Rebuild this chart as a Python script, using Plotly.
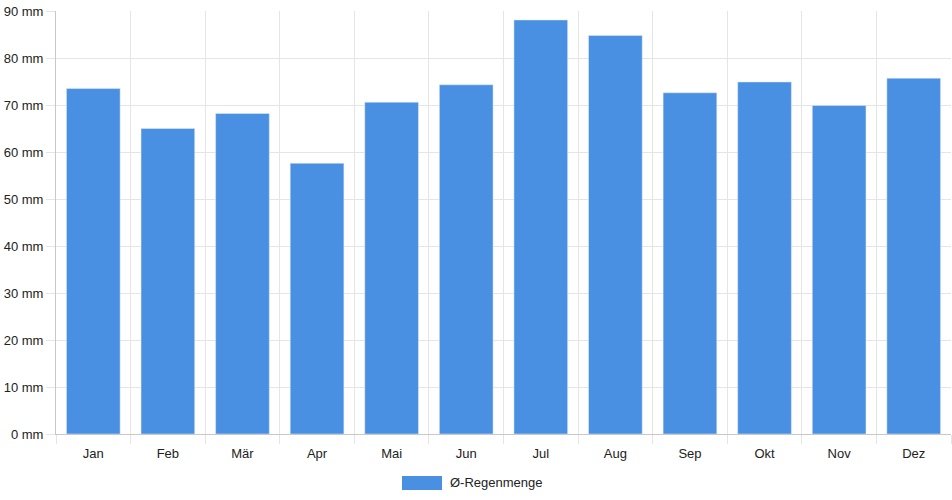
import plotly.graph_objects as go

# monthly average rainfall (mm)
months = ["Jan", "Feb", "Mär", "Apr", "Mai", "Jun",
          "Jul", "Aug", "Sep", "Okt", "Nov", "Dez"]
rain_mm = [73.5, 65.0, 68.2, 57.6, 70.6, 74.3,
           88.1, 84.8, 72.6, 74.9, 69.9, 75.7]
series_name = "Ø-Regenmenge"
y_ticks = list(range(0, 100, 10))
y_labels = [f"{v} mm" for v in y_ticks]

BAR_COLOR = "#4a90e2"
GRID = "#e5e5e5"
AXIS = "#c8c8c8"
FONT = dict(family="Liberation Sans, Arial, sans-serif", size=13, color="#222")

fig = go.Figure()
fig.add_trace(go.Bar(x=months, y=rain_mm, name=series_name,
                     marker_color=BAR_COLOR, showlegend=False))

fig.update_layout(
    width=952, height=500,
    margin=dict(l=56, r=1, t=11, b=66),
    plot_bgcolor="white", paper_bgcolor="white",
    font=FONT,
    bargap=0.28,
)
fig.update_xaxes(
    type="category", tickson="boundaries",
    showgrid=True, gridcolor=GRID,
    showline=True, linecolor=AXIS,
    ticks="outside", ticklen=9, tickcolor=GRID,
    ticklabelstandoff=7,
    range=[-0.5, len(months) - 0.5],
)
fig.update_yaxes(
    range=[0, 90], tickvals=y_ticks, ticktext=y_labels,
    showgrid=True, gridcolor=GRID, zeroline=False,
    showline=True, linecolor=AXIS,
    ticks="outside", ticklen=9, tickcolor=GRID,
)

# legend drawn by hand so the swatch is a wide box like the original
fig.add_shape(type="rect", xref="paper", yref="paper",
              x0=0.3866, x1=0.4313, y0=-0.1324, y1=-0.0993,
              fillcolor=BAR_COLOR, line=dict(width=0))
fig.add_annotation(text=series_name, xref="paper", yref="paper",
                   x=0.4383, y=-0.1158, xanchor="left", yanchor="middle",
                   showarrow=False, font=FONT)

fig.write_html("out.html", config={"displayModeBar": False},
               post_script="document.body.style.margin='0';")
